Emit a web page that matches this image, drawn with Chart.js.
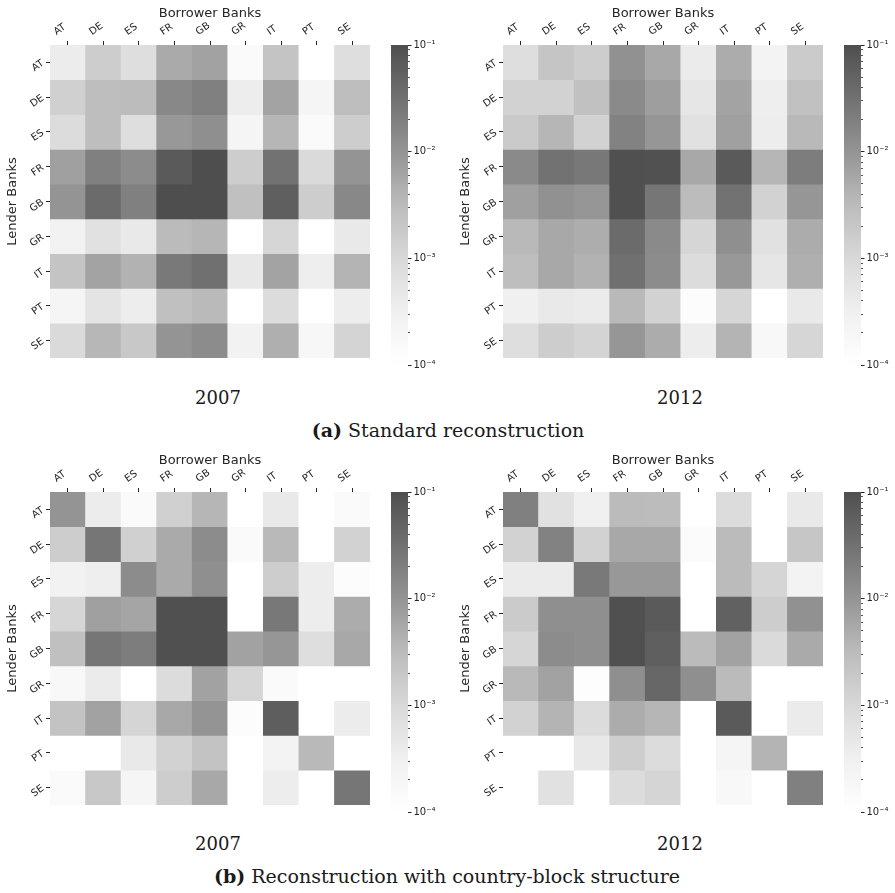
<!DOCTYPE html>
<html><head><meta charset="utf-8">
<script src="https://cdn.jsdelivr.net/npm/chart.js@4/dist/chart.umd.min.js"></script>
<style>
html,body{margin:0;padding:0;background:#fff;}
body{width:895px;height:893px;position:relative;overflow:hidden;}
canvas{position:absolute;}
.cap{position:absolute;font-family:"DejaVu Serif",serif;color:#1a1a1a;white-space:nowrap;transform:translate(-50%,-50%);}
.yr{font-size:18px;}
.sub{font-size:19px;}
</style></head><body>
<canvas id="h1" width="372" height="367" style="left:0px;top:0px"></canvas>
<canvas id="c1" width="55" height="340" style="left:389px;top:35px"></canvas>
<canvas id="h2" width="372" height="367" style="left:453px;top:0px"></canvas>
<canvas id="c2" width="55" height="340" style="left:842px;top:35px"></canvas>
<canvas id="h3" width="372" height="367" style="left:0px;top:447px"></canvas>
<canvas id="c3" width="55" height="340" style="left:389px;top:482px"></canvas>
<canvas id="h4" width="372" height="367" style="left:453px;top:447px"></canvas>
<canvas id="c4" width="55" height="340" style="left:842px;top:482px"></canvas>

<div class="cap yr" style="left:218px;top:397px">2007</div>
<div class="cap yr" style="left:680px;top:397px">2012</div>
<div class="cap sub" style="left:448px;top:430px"><b>(a)</b> Standard reconstruction</div>
<div class="cap yr" style="left:218px;top:843px">2007</div>
<div class="cap yr" style="left:680px;top:843px">2012</div>
<div class="cap sub" style="left:447px;top:876px"><b>(b)</b> Reconstruction with country-block structure</div>

<script>
// ---- data ----
const borrowers = ['AT','DE','ES','FR','GB','GR','IT','PT','SE'];
const lenders   = ['AT','DE','ES','FR','GB','GR','IT','PT','SE'];

const std2007 = [
 [3.8e-4,1.6e-3,7.6e-4,5.2e-3,6.6e-3,1.5e-4,2.3e-3,1.0e-4,7.6e-4],
 [1.4e-3,2.9e-3,3.1e-3,1.5e-2,1.9e-2,3.6e-4,6.4e-3,2.1e-4,2.9e-3],
 [8.4e-4,2.9e-3,7.6e-4,8.8e-3,1.2e-2,2.1e-4,3.7e-3,1.5e-4,1.6e-3],
 [7.0e-3,1.9e-2,1.3e-2,6.9e-2,1.0e-1,1.6e-3,3.0e-2,9.3e-4,1.0e-2],
 [1.0e-2,3.8e-2,1.9e-2,1.0e-1,1.0e-1,2.7e-3,5.8e-2,1.6e-3,1.5e-2],
 [2.7e-4,6.6e-4,4.4e-4,3.2e-3,3.7e-3,1.0e-4,1.1e-3,1.0e-4,4.4e-4],
 [2.3e-3,6.4e-3,4.2e-3,2.4e-2,3.3e-2,4.6e-4,6.4e-3,3.4e-4,3.9e-3],
 [2.1e-4,5.6e-4,3.6e-4,2.7e-3,3.3e-3,1.0e-4,8.4e-4,1.0e-4,3.6e-4],
 [9.3e-4,3.6e-3,1.9e-3,1.0e-2,1.3e-2,2.7e-4,4.5e-3,1.8e-4,1.2e-3]
];
const std2012 = [
 [7.6e-4,2.2e-3,1.6e-3,1.1e-2,5.5e-3,4.0e-4,4.9e-3,2.5e-4,1.7e-3],
 [1.3e-3,1.3e-3,2.6e-3,1.4e-2,7.4e-3,5.1e-4,6.4e-3,3.4e-4,2.6e-3],
 [1.8e-3,3.7e-3,1.3e-3,1.8e-2,9.3e-3,6.6e-4,7.0e-3,3.6e-4,3.4e-3],
 [1.4e-2,3.0e-2,2.5e-2,9.6e-2,9.3e-2,5.5e-3,6.9e-2,3.7e-3,2.1e-2],
 [7.0e-3,1.1e-2,9.3e-3,9.6e-2,2.7e-2,3.1e-3,3.0e-2,1.3e-3,9.3e-3],
 [3.4e-3,5.5e-3,4.8e-3,3.8e-2,1.4e-2,1.1e-3,1.2e-2,6.6e-4,4.9e-3],
 [2.9e-3,5.5e-3,4.2e-3,3.3e-2,1.3e-2,8.4e-4,8.8e-3,5.1e-4,4.5e-3],
 [3.1e-4,4.4e-4,4.0e-4,3.4e-3,1.3e-3,1.3e-4,1.1e-3,1.0e-4,4.4e-4],
 [7.6e-4,1.6e-3,1.2e-3,9.3e-3,4.9e-3,3.6e-4,3.9e-3,1.7e-4,1.1e-3]
];
const blk2007 = [
 [1.0e-2,3.8e-4,1.5e-4,1.4e-3,3.7e-3,0,4.4e-4,0,1.5e-4],
 [1.6e-3,2.7e-2,1.4e-3,5.2e-3,1.3e-2,1.5e-4,3.4e-3,0,1.3e-3],
 [2.7e-4,3.4e-4,1.3e-2,5.2e-3,1.2e-2,0,1.6e-3,3.6e-4,1.3e-4],
 [1.1e-3,7.0e-3,6.0e-3,9.6e-2,9.6e-2,0,2.5e-2,3.6e-4,4.9e-3],
 [2.7e-3,2.7e-2,2.1e-2,9.6e-2,9.6e-2,6.6e-3,9.3e-3,7.6e-4,5.5e-3],
 [1.7e-4,4.0e-4,0,8.4e-4,6.6e-3,1.1e-3,1.5e-4,0,0],
 [2.4e-3,6.6e-3,1.15e-3,5.5e-3,1.0e-2,1.3e-4,6.0e-2,0,3.8e-4],
 [0,0,4.4e-4,1.3e-3,2.4e-3,0,2.5e-4,3.4e-3,0],
 [1.5e-4,1.9e-3,2.1e-4,1.6e-3,5.5e-3,0,3.6e-4,0,2.7e-2]
];
const blk2012 = [
 [1.9e-2,6.6e-4,3.1e-4,3.2e-3,3.1e-3,0,8.4e-4,0,4.4e-4],
 [1.3e-3,1.8e-2,1.3e-3,5.5e-3,5.5e-3,1.35e-4,3.2e-3,0,2.1e-3],
 [4.0e-4,4.0e-4,2.4e-2,8.8e-3,8.8e-3,0,3.2e-3,1.15e-3,2.5e-4],
 [1.7e-3,1.2e-2,1.2e-2,9.6e-2,7.0e-2,0,5.5e-2,1.6e-3,1.1e-2],
 [1.1e-3,1.3e-2,1.2e-2,9.6e-2,5.8e-2,3.2e-3,6.6e-3,9.3e-4,5.2e-3],
 [3.4e-3,6.6e-3,1.2e-4,1.2e-2,4.5e-2,1.2e-2,3.2e-3,0,0],
 [1.3e-3,3.9e-3,8.4e-4,4.9e-3,3.7e-3,0,6.9e-2,0,4.0e-4],
 [0,0,4.6e-4,1.5e-3,8.4e-4,0,2.1e-4,3.9e-3,0],
 [0,6.6e-4,0,8.4e-4,1.15e-3,0,1.7e-4,0,1.9e-2]
];

const cbarMin = 1e-4, cbarMax = 1e-1;
const cbarTicks  = [1e-4, 1e-3, 1e-2, 1e-1];
const cbarLabels = ['10\u207B\u2074','10\u207B\u00B3','10\u207B\u00B2','10\u207B\u00B9'];

// ---- colour map (truncated "Greys", log scale) ----
const greyStops = [[0,255],[0.125,240],[0.25,217],[0.375,189],[0.5,150],[0.625,115],[0.75,82],[0.875,37],[1,0]];
const cmapTop = 0.76;
function greyAt(p){
  for(let k=1;k<greyStops.length;k++){
    if(p<=greyStops[k][0]){
      const [p0,g0]=greyStops[k-1],[p1,g1]=greyStops[k];
      return g0+(g1-g0)*(p-p0)/(p1-p0);
    }
  }
  return 0;
}
function colorT(t){ t=Math.max(0,Math.min(1,t)); const g=Math.round(greyAt(cmapTop*t)); return `rgb(${g},${g},${g})`; }
function cellColor(v){
  if(!v || v<=cbarMin) return '#ffffff';
  return colorT((Math.log10(v)-Math.log10(cbarMin))/(Math.log10(cbarMax)-Math.log10(cbarMin)));
}

Chart.defaults.font.family = "'DejaVu Sans', sans-serif";
Chart.defaults.color = '#262626';

const tickGrid = {display:true, drawOnChartArea:false, drawTicks:true, tickLength:4, offset:false, tickColor:'#262626', tickWidth:1};

function heatmap(id, matrix){
  const datasets = lenders.map((name,i)=>({
    label:name,
    data:borrowers.map(()=>1),
    backgroundColor:matrix[i].map(cellColor),
    borderWidth:0, barPercentage:1, categoryPercentage:1
  }));
  new Chart(document.getElementById(id),{
    type:'bar',
    data:{labels:borrowers, datasets},
    options:{
      responsive:false, animation:false,
      layout:{padding:{left:0,top:0,right:2,bottom:2}},
      plugins:{legend:{display:false}, tooltip:{enabled:false}},
      scales:{
        x:{position:'top', stacked:true, offset:true,
           grid:tickGrid, border:{display:false},
           ticks:{minRotation:35,maxRotation:35,autoSkip:false,font:{size:10},padding:3,labelOffset:-6},
           title:{display:true,text:'Borrower Banks',font:{size:13},padding:{top:6,bottom:0}},
           afterFit(s){s.height=45;}},
        y:{type:'linear',min:0,max:9,reverse:true,stacked:true,
           afterBuildTicks(s){s.ticks=lenders.map((n,i)=>({value:i+0.5}));},
           grid:tickGrid, border:{display:false},
           ticks:{callback:(v,i)=>lenders[i],minRotation:35,maxRotation:35,autoSkip:false,font:{size:10},padding:3},
           title:{display:true,text:'Lender Banks',font:{size:13},padding:{top:5,bottom:0}},
           afterFit(s){s.width=50;}}
      }
    }
  });
}

const minorTicks = [];
for(let e=-4;e<-1;e++){ for(let m=2;m<=9;m++){ minorTicks.push(m*Math.pow(10,e)); } }

function colorbar(id){
  new Chart(document.getElementById(id),{
    type:'bar',
    data:{labels:[''], datasets:[{
      data:[[cbarMin,cbarMax]], yAxisID:'y',
      backgroundColor(ctx){
        const ch=ctx.chart, a=ch.chartArea;
        if(!a) return '#999';
        const g=ch.ctx.createLinearGradient(0,a.bottom,0,a.top);
        for(let k=0;k<=30;k++) g.addColorStop(k/30,colorT(k/30));
        return g;
      },
      borderWidth:0, barPercentage:1, categoryPercentage:1
    }]},
    options:{
      responsive:false, animation:false,
      layout:{padding:{left:2,top:10,right:0,bottom:10}},
      plugins:{legend:{display:false}, tooltip:{enabled:false}},
      scales:{
        x:{display:false},
        yMinor:{type:'logarithmic',position:'right',min:cbarMin,max:cbarMax,weight:0,
           afterBuildTicks(s){s.ticks=minorTicks.map(v=>({value:v}));},
           ticks:{display:false,autoSkip:false},
           grid:{display:true,drawOnChartArea:false,drawTicks:true,tickLength:2,tickColor:'#262626',tickWidth:0.8},
           border:{display:false},
           afterFit(s){s.width=0;}},
        y:{type:'logarithmic',position:'right',min:cbarMin,max:cbarMax,weight:1,
           afterBuildTicks(s){s.ticks=cbarTicks.map(v=>({value:v,major:true}));},
           ticks:{callback:(v,i)=>cbarLabels[i],font:{size:10},padding:2,autoSkip:false},
           grid:{display:true,drawOnChartArea:false,drawTicks:true,tickLength:3.5,tickColor:'#262626',tickWidth:1},
           border:{display:false},
           afterFit(s){s.width=36;}}
      }
    }
  });
}

heatmap('h1',std2007); colorbar('c1');
heatmap('h2',std2012); colorbar('c2');
heatmap('h3',blk2007); colorbar('c3');
heatmap('h4',blk2012); colorbar('c4');
</script>
</body></html>
